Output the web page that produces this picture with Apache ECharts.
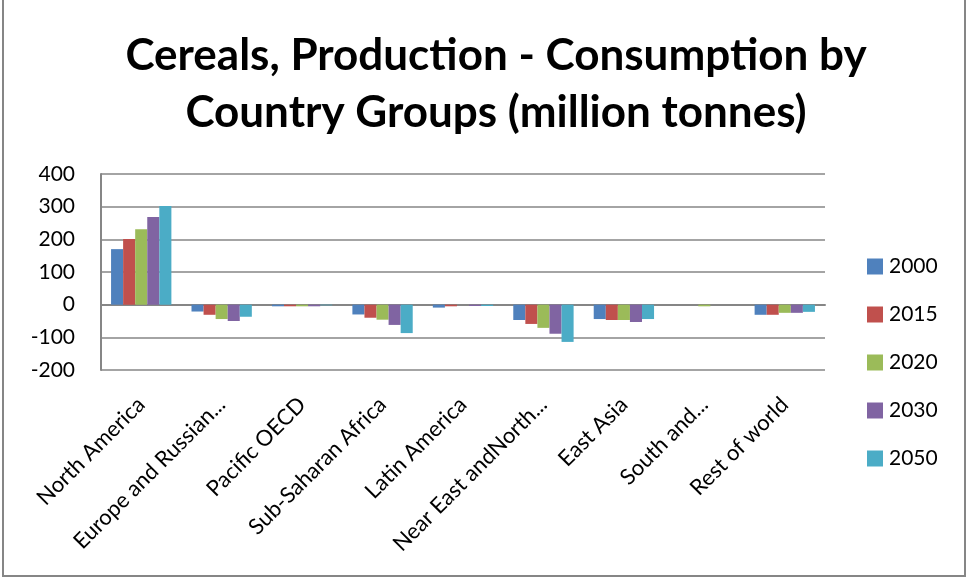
<!DOCTYPE html>
<html>
<head>
<meta charset="utf-8">
<script src="https://cdn.jsdelivr.net/npm/echarts@6/dist/echarts.min.js"></script>
<style>
  html, body { margin: 0; padding: 0; background: #fff; }
  #chart { width: 968px; height: 578px; }
</style>
</head>
<body>
<div id="chart"></div>
<script>
// Country groups on the category axis
const categories = [
  'North America', 'Europe and Russian...', 'Pacific OECD', 'Sub-Saharan Africa',
  'Latin America', 'Near East andNorth...', 'East Asia', 'South and...', 'Rest of world'
];

// Production minus consumption, million tonnes, per scenario year
const years = ['2000', '2015', '2020', '2030', '2050'];
const v2000 = [170, -21, -5, -30, -9, -47, -44, 0, -31];
const v2015 = [201, -31, -5, -40, -5, -59, -47, 0, -31];
const v2020 = [231, -44, -5, -46, 0, -71, -47, -5, -25];
const v2030 = [268, -50, -5, -62, -4, -89, -53, 0, -25];
const v2050 = [302, -37, -2, -87, -4, -114, -44, 0, -22];
const seriesValues = [v2000, v2015, v2020, v2030, v2050];

const yTicks = { min: -200, max: 400, interval: 100 };
const colors = ['#4F81BD', '#C0504D', '#9BBB59', '#8064A2', '#4BACC6'];

const chart = echarts.init(document.getElementById('chart'));
chart.setOption({
  animation: false,
  color: colors,
  title: {
    text: 'Cereals, Production - Consumption by\nCountry Groups (million tonnes)',
    left: 491,
    textAlign: 'center',
    top: 22,
    textStyle: {
      fontFamily: 'Lato',
      fontWeight: 'bold',
      fontSize: 44,
      lineHeight: 57,
      color: '#000'
    }
  },
  legend: {
    orient: 'vertical',
    left: 862,
    top: 251,
    itemWidth: 16,
    itemHeight: 16,
    itemGap: 27,
    icon: 'rect',
    textStyle: { fontFamily: 'Lato', fontSize: 21, color: '#000', padding: [0, 0, 0, 1] },
    data: years
  },
  grid: { left: 101, right: 143, top: 174, bottom: 208, containLabel: false, outerBoundsMode: 'none' },
  xAxis: {
    type: 'category',
    data: categories,
    axisTick: { show: false },
    axisLine: { show: true, onZero: true, lineStyle: { color: '#868686', width: 2 } },
    axisLabel: {
      interval: 0,
      rotate: 45,
      fontFamily: 'Lato',
      fontSize: 22,
      color: '#000',
      margin: 31
    }
  },
  yAxis: {
    type: 'value',
    min: yTicks.min,
    max: yTicks.max,
    interval: yTicks.interval,
    axisLine: { show: true, lineStyle: { color: '#868686', width: 2 } },
    axisTick: { show: false },
    splitLine: { lineStyle: { color: '#868686', width: 1.5 } },
    axisLabel: { fontFamily: 'Lato', fontSize: 21, color: '#000', margin: 26 }
  },
  series: seriesValues.map((vals, i) => ({
    name: years[i],
    type: 'bar',
    data: vals,
    barGap: '0%',
    barCategoryGap: '25%'
  })),
  graphic: [{
    type: 'rect',
    shape: { x: 3, y: -2, width: 962, height: 578 },
    style: { fill: 'none', stroke: '#868686', lineWidth: 2 },
    silent: true
  }]
});
</script>
</body>
</html>
